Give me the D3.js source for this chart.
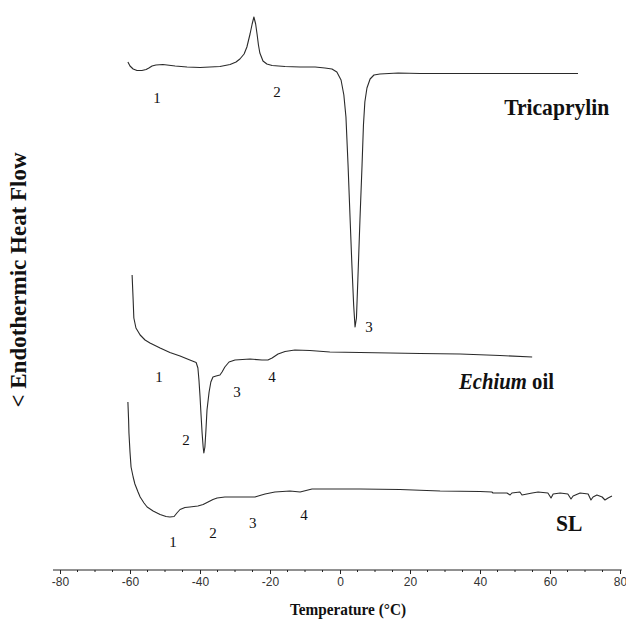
<!DOCTYPE html>
<html>
<head>
<meta charset="utf-8">
<script src="https://cdn.jsdelivr.net/npm/d3@7"></script>
<style>
  html, body { margin: 0; padding: 0; background: #fff; }
  svg { display: block; }
</style>
</head>
<body>
<svg id="chart" width="626" height="633"></svg>
<script>
// DSC thermograms: temperature (°C) vs heat flow (arbitrary units, curves offset vertically)
const tricaprylinT  = [-60.6,-60.0,-59.1,-58.0,-56.6,-55.4,-54.6,-53.7,-52.6,-50.6,-47.1,-43.7,-40.0,-34.3,-31.4,-29.7,-28.6,-27.4,-26.6,-25.7,-25.1,-24.6,-24.1,-23.7,-23.3,-22.9,-22.0,-20.9,-19.4,-15.7,-11.4,-7.1,-4.3,-2.3,-0.9,0.3,1.1,1.7,2.3,2.9,3.4,3.9,4.3,4.7,5.1,5.7,6.3,6.7,7.1,7.7,8.6,9.7,11.4,16.6,22.9,40.0,57.1,68.0];
const tricaprylinHF = [498,494,491,489.5,489.5,490.5,492,494,495,495.5,494,493,492.5,493.5,495.5,498,501,506,513,526,536,543,536,526,515,507,499,496,494.5,493.5,493,493,492,491,488,480,465,443,395,340,295,255,233,242,280,340,395,435,458,472,481,485,486,487,486.5,486.5,486.5,486.5];

const echiumT  = [-59.4,-59.1,-58.9,-58.3,-57.1,-55.7,-54.3,-51.4,-48.6,-45.7,-42.9,-41.1,-40.6,-40.3,-40.0,-39.7,-39.4,-39.1,-38.9,-38.6,-38.3,-38.0,-37.4,-36.9,-36.3,-35.4,-34.3,-33.7,-32.9,-31.7,-30.0,-25.7,-22.3,-20.6,-19.4,-17.7,-15.7,-12.9,-8.6,-2.9,5.7,14.3,22.9,34.3,45.7,54.9];
const echiumHF = [285,260,242,232,225,220,217,212,207.5,204,200,197.5,192,180,164,145,127,113,107,113,130,150,168,178,183,184,185,188,193,198,200,201,200,200,202,206,208.5,210,209.5,208,207.5,207,206.5,206,204.5,203];

const slT  = [-60.6,-60.4,-60.3,-60.0,-59.7,-59.1,-58.6,-57.7,-57.1,-56.0,-55.1,-53.4,-51.4,-49.7,-48.6,-47.4,-46.6,-45.7,-44.3,-42.9,-40.6,-39.1,-37.7,-36.3,-35.1,-32.9,-28.6,-24.3,-22.9,-21.4,-18.6,-14.3,-11.4,-9.7,-8.0,-2.9,5.7,17.1,28.6,40.0,43.4,43.7,47.7,48.6,49.1,51.4,52.0,54.9,56.6,59.4,60.3,60.9,62.9,65.1,66.0,66.6,68.6,70.9,71.7,72.3,73.4,74.9,75.7,76.6,77.7];
const slHF = [158,140,127,108,93,83,76,68,63,57,53,49,45.5,43.5,43,43.5,47,50.5,52.5,53,54,55.5,58,60.5,62,63,63,63,64.5,66,68,69,68,69.5,71,71,71,70.5,69,68.5,68,67,67,65,67,68,65,67,68,67,62,66,67,66,61,64,67,66,60,63,65,63,60,62,64];

// numbered thermal events beside each curve: [label, temperature, heat flow]
const tricaprylinEvents = [["1",-52.3,462],["2",-18.0,468],["3",8.3,233]];
const echiumEvents      = [["1",-51.7,183],["2",-44.0,120],["3",-29.4,168],["4",-19.4,183]];
const slEvents          = [["1",-47.7,18],["2",-36.3,27],["3",-24.9,37],["4",-10.3,45]];

// sample names: [temperature, heat flow] of the text start
const sampleNames = [
  { name: "Tricaprylin", at: [46.9, 445], size: 24 },
  { name: "Echium", suffix: " oil", at: [34.0, 171], size: 23 },
  { name: "SL", at: [61.7, 29], size: 24 }
];

const xTicks = [-80, -60, -40, -20, 0, 20, 40, 60, 80];
const xTitle = "Temperature (°C)";
const yTitle = "< Endothermic Heat Flow";

const svg = d3.select("#chart");
const x = d3.scaleLinear().domain([-80, 80]).range([60, 620]);
const y = d3.scaleLinear().domain([0, 550]).range([560, 10]);

const serif = "'Liberation Serif', 'Times New Roman', serif";
const narrow = 0.9; // horizontal squeeze of the bold serif labels
const line = d3.line().x(d => x(d[0])).y(d => y(d[1]));

[[tricaprylinT, tricaprylinHF], [echiumT, echiumHF], [slT, slHF]].forEach(([t, hf]) => {
  svg.append("path")
    .datum(t.map((v, i) => [v, hf[i]]))
    .attr("d", line)
    .attr("fill", "none")
    .attr("stroke", "#2a2a2a")
    .attr("stroke-width", 1.1)
    .attr("stroke-linejoin", "round");
});

[tricaprylinEvents, echiumEvents, slEvents].forEach(ev => {
  svg.append("g").selectAll("text").data(ev).join("text")
    .attr("x", d => x(d[1]))
    .attr("y", d => y(d[2]))
    .attr("dy", "0.35em")
    .attr("text-anchor", "middle")
    .attr("font-family", serif)
    .attr("font-size", 15)
    .attr("fill", "#111")
    .text(d => d[0]);
});

sampleNames.forEach(s => {
  const t = svg.append("text")
    .attr("transform", `translate(${x(s.at[0])},${y(s.at[1])}) scale(${narrow},1)`)
    .attr("font-family", serif)
    .attr("font-weight", "bold")
    .attr("font-size", s.size)
    .attr("fill", "#111");
  if (s.suffix) {
    t.append("tspan").attr("font-style", "italic").text(s.name);
    t.append("tspan").text(s.suffix);
  } else {
    t.text(s.name);
  }
});

// bottom axis: labelled ticks every 20 °C, minor ticks every 5 °C
const axisY = 570;
svg.append("line")
  .attr("x1", x(-82)).attr("x2", x(80.5))
  .attr("y1", axisY).attr("y2", axisY)
  .attr("stroke", "#222").attr("stroke-width", 1);

const minor = d3.range(-80, 81, 5).filter(v => v % 20 !== 0);
const gx = svg.append("g").attr("transform", `translate(0,${axisY})`)
  .call(d3.axisBottom(x).tickValues(xTicks).tickFormat(d3.format("d")).tickSize(4).tickPadding(3));
gx.select(".domain").remove();
gx.selectAll(".tick line").attr("stroke", "#222");
gx.selectAll(".tick text")
  .attr("font-family", "'Liberation Sans', Arial, sans-serif")
  .attr("font-size", 12)
  .attr("fill", "#333")
  .text(d => String(d).replace("−", "-"));

svg.append("g").selectAll("line").data(minor).join("line")
  .attr("x1", d => x(d)).attr("x2", d => x(d))
  .attr("y1", axisY).attr("y2", axisY + 2)
  .attr("stroke", "#222");

svg.append("text")
  .attr("transform", `translate(348,615) scale(${narrow},1)`)
  .attr("text-anchor", "middle")
  .attr("font-family", serif)
  .attr("font-weight", "bold")
  .attr("font-size", 17)
  .attr("fill", "#111")
  .text(xTitle);

svg.append("text")
  .attr("transform", "translate(26,280) rotate(-90)")
  .attr("text-anchor", "middle")
  .attr("font-family", serif)
  .attr("font-weight", "bold")
  .attr("font-size", 23)
  .attr("fill", "#111")
  .text(yTitle);
</script>
</body>
</html>
